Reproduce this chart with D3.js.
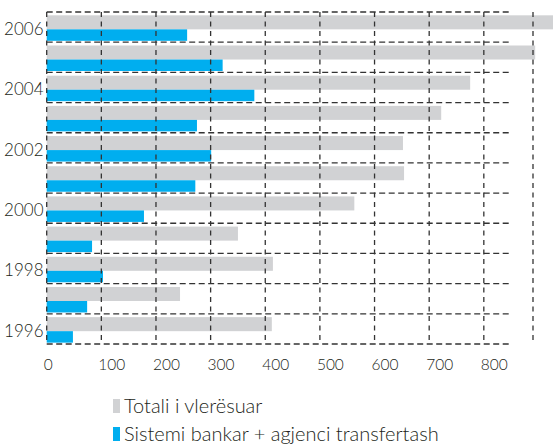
<!DOCTYPE html>
<html lang="sq">
<head>
    <meta charset="UTF-8">
    <title>Remitancat</title>
    <script src="https://d3js.org/d3.v7.min.js"></script>
    <style>
        body { margin: 0; background: #fff; }
        text { font-family: Lato, "Open Sans", sans-serif; font-weight: 300; fill: #231f20; }
    </style>
</head>
<body>
    <script>
        // data
        const years = [1996, 1997, 1998, 1999, 2000, 2001, 2002, 2003, 2004, 2005, 2006];
        const totali = [412, 244, 414, 350, 563, 654, 652, 722, 775, 894, 935];
        const bankar = [48, 74, 103, 83, 178, 272, 301, 275, 380, 322, 257];
        const xTicks = [0, 100, 200, 300, 400, 500, 600, 700, 800];
        const yearLabels = [1996, 1998, 2000, 2002, 2004, 2006];
        const legendNames = ["Totali i vlerësuar", "Sistemi bankar + agjenci transfertash"];
        const colors = ["#d1d2d4", "#00aeef"];

        const width = 553, height = 447;

        const svg = d3.select("body")
            .append("svg")
            .attr("width", width)
            .attr("height", height);

        // x scale: right frame edge sits a bit past the 800 line
        const x = d3.scaleLinear()
            .domain([0, 890])
            .range([46.7, 533]);

        const y = d3.scaleBand()
            .domain(years.slice().reverse())
            .range([12, 344]);

        const bw = y.bandwidth();

        // bars
        const rows = svg.append("g")
            .selectAll("g")
            .data(years)
            .join("g")
            .attr("transform", d => `translate(0, ${y(d)})`);

        rows.append("rect")
            .attr("x", x(0))
            .attr("y", bw * 0.11)
            .attr("width", (d, i) => x(totali[i]) - x(0))
            .attr("height", bw * 0.465)
            .attr("fill", colors[0]);

        rows.append("rect")
            .attr("x", x(0))
            .attr("y", bw * 0.575)
            .attr("width", (d, i) => x(bankar[i]) - x(0))
            .attr("height", bw * 0.38)
            .attr("fill", colors[1]);

        // dashed grid
        const grid = svg.append("g")
            .attr("stroke", "#333")
            .attr("stroke-width", 1.3)
            .attr("fill", "none");

        const hLines = years.map(d => y(d)).concat([y.range()[1]]);
        grid.selectAll(".h")
            .data(hLines)
            .join("line")
            .attr("class", "h")
            .attr("x1", x(0))
            .attr("x2", x(850))
            .attr("y1", d => d)
            .attr("y2", d => d)
            .attr("stroke-dasharray", "6,3.5");

        grid.selectAll(".v")
            .data(xTicks.concat([890]))
            .join("line")
            .attr("class", "v")
            .attr("x1", d => x(d))
            .attr("x2", d => x(d))
            .attr("y1", y.range()[0])
            .attr("y2", y.range()[1])
            .attr("stroke-dasharray", "5,4.5");

        // x tick labels
        svg.append("g")
            .selectAll("text")
            .data(xTicks)
            .join("text")
            .attr("x", d => x(d) - 3)
            .attr("y", 369.5)
            .attr("font-size", 15.5)
            .text(d => d);

        // year labels
        svg.append("g")
            .selectAll("text")
            .data(yearLabels)
            .join("text")
            .attr("x", 43.5)
            .attr("y", d => y(d) + 23)
            .attr("text-anchor", "end")
            .attr("font-size", 17)
            .text(d => d);

        // legend
        const legend = svg.append("g")
            .selectAll("g")
            .data(legendNames)
            .join("g")
            .attr("transform", (d, i) => `translate(113, ${399 + i * 28})`);

        legend.append("rect")
            .attr("width", 7)
            .attr("height", 14)
            .attr("fill", (d, i) => colors[i]);

        legend.append("text")
            .attr("x", 11)
            .attr("y", 14)
            .attr("font-size", 20)
            .text(d => d);
    </script>
</body>
</html>
